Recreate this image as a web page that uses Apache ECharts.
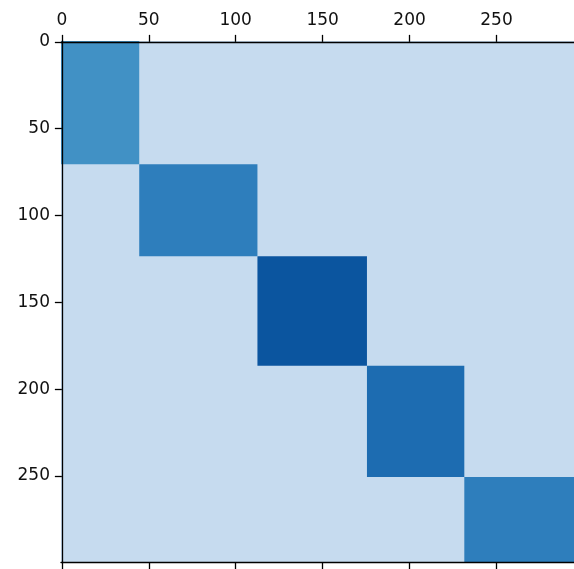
<!DOCTYPE html>
<html>
<head>
<meta charset="utf-8">
<script src="https://cdn.jsdelivr.net/npm/echarts@6/dist/echarts.min.js"></script>
<style>html,body{margin:0;padding:0;background:#fff;}#c{width:574px;height:569px;}</style>
</head>
<body>
<div id="c"></div>
<script>
// Matrix size
var nRows = 300;
var nCols = 300;
// The picture is cropped on the right: visible column range ends here
var xVisibleMax = 294.6;
// Block-diagonal clusters (row/column index ranges) and their intensity
var rowStarts = [0, 71, 124, 187, 251];
var rowEnds   = [71, 124, 187, 251, 300];
var colStarts = [0, 45, 113, 176, 232];
var colEnds   = [45, 113, 176, 232, 300];
var blockValues = [0.63, 0.70, 0.86, 0.77, 0.70];
var backgroundValue = 0.25;
var tickValues = [0, 50, 100, 150, 200, 250];
var bluesColors = ['#f7fbff','#deebf7','#c6dbef','#9ecae1','#6baed6','#4292c6','#2171b5','#08519c','#08306b'];

var data = [[0, nCols, 0, nRows, backgroundValue]];
for (var i = 0; i < blockValues.length; i++) {
  data.push([colStarts[i], colEnds[i], rowStarts[i], rowEnds[i], blockValues[i]]);
}

var chart = echarts.init(document.getElementById('c'), null, {renderer: 'canvas'});
var axisFont = {fontFamily: 'DejaVu Sans', fontSize: 17, color: '#111'};
var lineStyle = {color: '#000', width: 1.3};
chart.setOption({
  animation: false,
  backgroundColor: '#fff',
  grid: {left: 61, top: 41, right: 0, bottom: 7, containLabel: false},
  visualMap: {show: false, min: 0, max: 1, dimension: 4, seriesIndex: 0,
              inRange: {color: bluesColors}},
  xAxis: [{
    type: 'value', position: 'top', min: -0.5, max: xVisibleMax, z: 10,
    axisLine: {show: true, lineStyle: lineStyle},
    axisTick: {show: true, length: 7, lineStyle: lineStyle, customValues: tickValues},
    axisLabel: Object.assign({margin: 12, customValues: tickValues}, axisFont),
    splitLine: {show: false}
  }, {
    type: 'value', position: 'bottom', min: -0.5, max: xVisibleMax, z: 10,
    axisLine: {show: true, lineStyle: lineStyle},
    axisTick: {show: true, length: 7, lineStyle: lineStyle, customValues: tickValues},
    axisLabel: {show: false},
    splitLine: {show: false}
  }],
  yAxis: {
    type: 'value', inverse: true, min: -0.5, max: nRows - 0.5, z: 10,
    axisLine: {show: true, lineStyle: lineStyle},
    axisTick: {show: true, length: 7, lineStyle: lineStyle, customValues: tickValues},
    axisLabel: Object.assign({margin: 11, customValues: tickValues}, axisFont),
    splitLine: {show: false}
  },
  series: [{
    type: 'custom',
    xAxisIndex: 0,
    yAxisIndex: 0,
    clip: true,
    encode: {x: [0, 1], y: [2, 3]},
    renderItem: function (params, api) {
      var p0 = api.coord([api.value(0) - 0.5, api.value(2) - 0.5]);
      var p1 = api.coord([api.value(1) - 0.5, api.value(3) - 0.5]);
      var rect = {x: Math.min(p0[0], p1[0]), y: Math.min(p0[1], p1[1]),
                  width: Math.abs(p1[0] - p0[0]), height: Math.abs(p1[1] - p0[1])};
      var clipped = echarts.graphic.clipRectByRect(rect, {
        x: params.coordSys.x, y: params.coordSys.y,
        width: params.coordSys.width, height: params.coordSys.height
      });
      return clipped && {
        type: 'rect',
        shape: clipped,
        style: {fill: api.visual('color')}
      };
    },
    data: data,
    z: 1
  }]
});
</script>
</body>
</html>
